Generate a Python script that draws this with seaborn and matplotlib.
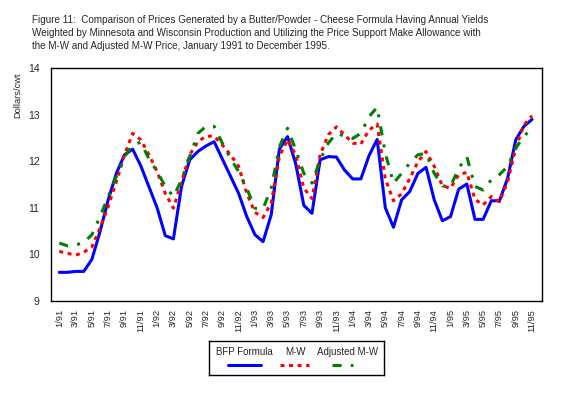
import matplotlib
matplotlib.use("Agg")
import matplotlib.pyplot as plt
import seaborn as sns
import numpy as np
import pandas as pd

# ---- data ----
years = ["91", "92", "93", "94", "95"]
tick_labels = [f"{m}/{y}" for y in years for m in (1, 3, 5, 7, 9, 11)]

bfp_formula = [9.61, 9.61, 9.63, 9.63, 9.89, 10.49, 11.17, 11.74, 12.14, 12.26,
               11.90, 11.45, 11.00, 10.40, 10.33, 11.46, 12.03, 12.21, 12.33, 12.42,
               12.05, 11.68, 11.31, 10.81, 10.42, 10.27, 10.85, 12.26, 12.53, 11.95,
               11.05, 10.88, 12.03, 12.10, 12.09, 11.81, 11.62, 11.62, 12.12, 12.47,
               11.00, 10.58, 11.17, 11.35, 11.74, 11.87, 11.17, 10.72, 10.81, 11.40,
               11.51, 10.75, 10.75, 11.15, 11.15, 11.63, 12.46, 12.75, 12.90]

mw = [10.06, 10.02, 9.98, 10.04, 10.16, 10.56, 11.03, 11.56, 12.14, 12.60,
      12.46, 12.14, 11.78, 11.31, 10.99, 11.56, 12.14, 12.42, 12.54, 12.54,
      12.35, 12.14, 11.89, 11.31, 10.90, 10.79, 11.10, 12.10, 12.46, 12.14,
      11.42, 11.20, 12.14, 12.57, 12.74, 12.57, 12.39, 12.37, 12.67, 12.80,
      11.62, 11.15, 11.30, 11.63, 11.99, 12.21, 11.89, 11.47, 11.42, 11.71,
      11.76, 11.18, 11.06, 11.24, 11.13, 11.56, 12.28, 12.78, 12.98]

adjusted_mw = [10.24, 10.18, 10.20, 10.25, 10.42, 10.81, 11.24, 11.67, 12.10, 12.35,
               12.41, 12.05, 11.78, 11.46, 11.24, 11.60, 12.10, 12.60, 12.75, 12.75,
               12.39, 12.06, 11.78, 11.42, 10.99, 10.98, 11.42, 12.31, 12.71, 12.25,
               11.74, 11.53, 12.03, 12.39, 12.60, 12.54, 12.49, 12.60, 12.96, 13.16,
               12.17, 11.53, 11.74, 11.96, 12.14, 12.17, 11.74, 11.47, 11.46, 11.85,
               12.10, 11.46, 11.38, 11.60, 11.71, 11.89, 12.28, 12.54, 12.71]

series_names = ["BFP Formula", "M-W", "Adjusted M-W"]
colors = ["#0000FF", "#FF0000", "#008000"]

# ---- figure ----
sns.set_style("white")
plt.rcParams["font.family"] = ["Liberation Sans", "DejaVu Sans"]

W, H = 585, 398
fig = plt.figure(figsize=(W / 100, H / 100), dpi=100)
fig.patch.set_facecolor("white")

ax_l, ax_r, ax_t, ax_b = 50.7, 542.3, 68.3, 300.7
ax = fig.add_axes([ax_l / W, 1 - ax_b / H, (ax_r - ax_l) / W, (ax_b - ax_t) / H])

months = np.arange(len(bfp_formula))
df = pd.DataFrame({"month": months, "BFP Formula": bfp_formula,
                   "M-W": mw, "Adjusted M-W": adjusted_mw})

lw = 2.2
styles = ["-", (0, (1.3, 1.5)), (0, (3.0, 3.0, 1.0, 3.0))]
for name, col, ls in zip(series_names, colors, styles):
    sns.lineplot(data=df, x="month", y=name, ax=ax, color=col, lw=lw, legend=False)
    ax.lines[-1].set_linestyle(ls)

ax.set_xlim(-1.055, 59.26)
ax.set_ylim(9, 14)
ax.set_xlabel("")
ax.set_ylabel("")

ax.set_xticks(np.arange(0, 59, 2))
ax.set_xticklabels(tick_labels, rotation=90, fontsize=6.7)
ax.set_xticks(np.arange(1, 60, 2), minor=True)
ax.tick_params(axis="x", which="major", direction="out", length=4, width=0.8, pad=2)
ax.tick_params(axis="x", which="minor", direction="out", length=2, width=0.8)

ax.set_yticks(np.arange(9, 15, 1))
ax.set_yticklabels([str(v) for v in range(9, 15)], fontsize=7.5)
ax.set_yticks(np.arange(9.5, 14, 1), minor=True)
ax.tick_params(axis="y", which="major", direction="in", length=3, width=0.8, pad=8)
ax.tick_params(axis="y", which="minor", direction="in", length=3, width=0.8)

for sp in ax.spines.values():
    sp.set_color("black")
    sp.set_linewidth(1.0)
    sp.set_visible(True)

fig.text(18 / W, 1 - 72 / H, "Dollars/cwt", rotation=90, fontsize=6.7,
         ha="center", va="top")

title = ("Figure 11:  Comparison of Prices Generated by a Butter/Powder - Cheese Formula Having Annual Yields\n"
         "Weighted by Minnesota and Wisconsin Production and Utilizing the Price Support Make Allowance with\n"
         "the M-W and Adjusted M-W Price, January 1991 to December 1995.")
fig.text(32 / W, 1 - 15 / H, title, fontsize=7.1, ha="left", va="top", linespacing=1.35)

# ---- legend box (text above line samples) ----
lx0, lx1, ly0, ly1 = 209, 384, 341, 375
lax = fig.add_axes([lx0 / W, 1 - ly1 / H, (lx1 - lx0) / W, (ly1 - ly0) / H])
lax.set_xlim(0, lx1 - lx0)
lax.set_ylim(ly1 - ly0, 0)
lax.set_xticks([])
lax.set_yticks([])
for sp in lax.spines.values():
    sp.set_color("black")
    sp.set_linewidth(1.0)
text_x = [35, 86.5, 138.5]
seg = [(19, 52), (71, 100), (123, 144)]
for name, col, ls, tx, (s0, s1) in zip(series_names, colors, styles, text_x, seg):
    lax.text(tx, 11, name, fontsize=7, ha="center", va="center")
    lax.plot([s0, s1], [24, 24], color=col, lw=lw, linestyle=ls)

fig.savefig("out.png", dpi=100, facecolor="white")
